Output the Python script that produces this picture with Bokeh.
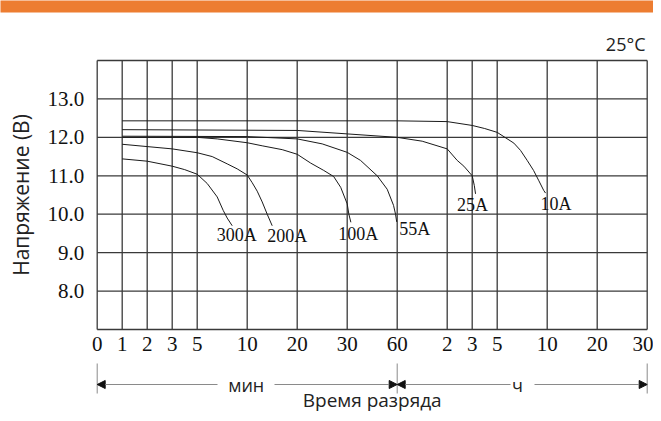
from bokeh.plotting import figure
from bokeh.models import (FixedTicker, Range1d, Arrow, NormalHead, PrintfTickFormatter)
from bokeh.core.properties import value
from bokeh.embed import file_html
from bokeh.resources import INLINE
import numpy as np

# ---------------- data ----------------
tick_minutes = [0, 1, 2, 3, 5, 10, 20, 30, 60, 120, 180, 300, 600, 1200, 1800]
tick_labels = ["0", "1", "2", "3", "5", "10", "20", "30", "60", "2", "3", "5", "10", "20", "30"]
tick_slots = [0, 1, 2, 3, 4, 6, 8, 10, 12, 14, 15, 16, 18, 20, 22]
y_ticks = [8, 9, 10, 11, 12, 13]

series_names = ["300A", "200A", "100A", "55A", "25A", "10A"]

t_300 = [1, 2, 3, 4, 5, 6, 7, 7.6, 8, 8.5]
v_300 = [11.44, 11.38, 11.25, 11.16, 11.04, 10.8, 10.45, 10.1, 9.9, 9.7]

t_200 = [1, 2, 3, 5, 6.5, 8, 9, 10, 11, 12, 13, 14, 15]
v_200 = [11.82, 11.76, 11.7, 11.6, 11.5, 11.31, 11.18, 11.02, 10.82, 10.6, 10.32, 10.0, 9.7]

t_100 = [1, 5, 7, 10, 13, 17, 20, 22.7, 25.3, 27.3, 28.7, 30, 31, 32.2]
v_100 = [12.0, 12.0, 11.96, 11.86, 11.78, 11.68, 11.56, 11.33, 11.14, 10.98, 10.7, 10.27, 10.0, 9.79]

t_55 = [1, 10, 20, 25, 30, 38, 48, 54, 57.8, 59, 59.7]
v_55 = [12.03, 12.02, 11.96, 11.83, 11.61, 11.4, 11.0, 10.65, 10.23, 10.0, 9.8]

t_25 = [1, 20, 30, 60, 90, 120, 144, 160, 180, 190, 196]
v_25 = [12.2, 12.18, 12.09, 12.0, 11.9, 11.7, 11.4, 11.25, 11.0, 10.75, 10.53]

t_10 = [1, 60, 120, 180, 240, 300, 400, 440, 480, 518, 550, 579, 590]
v_10 = [12.43, 12.43, 12.41, 12.31, 12.23, 12.13, 11.85, 11.66, 11.4, 11.14, 10.87, 10.62, 10.55]

unit_text = ["мин", "ч"]

# ---------------- layout (pixels inside the canvas) ----------------
W, H = 653, 413
GX0, GX1 = 96.7, 646.7      # grid box left / right
GY0, GY1 = 60.0, 329.0      # grid box top / bottom
S0, S1 = 0, 22              # slot range of the grid
V0, V1 = 7, 14              # voltage range of the grid
px_x = (GX1 - GX0) / (S1 - S0)
px_y = (GY1 - GY0) / (V1 - V0)

x_start = S0 - GX0 / px_x
x_end = S1 + (W - GX1) / px_x
y_start = V0 - (H - GY1) / px_y
y_end = V1 + GY0 / px_y


def xs_(px):
    return S0 + (px - GX0) / px_x


def ys_(py):
    return V1 - (py - GY0) / px_y


def to_slot(t):
    return np.interp(t, tick_minutes, tick_slots)


p = figure(width=W, height=H, output_backend="svg", toolbar_location=None,
           x_range=Range1d(x_start, x_end), y_range=Range1d(y_start, y_end),
           min_border_left=0, min_border_right=0, min_border_top=0,
           min_border_bottom=0, title=None)
p.background_fill_color = "white"
p.border_fill_color = "white"
p.outline_line_color = None
p.grid.visible = False

serif = "Liberation Serif"
sans = "Open Sans"
grid_col = "#3a3a3a"

# axes (drawn at fixed data locations inside the canvas)
p.xaxis.fixed_location = V0
p.xaxis.bounds = (S0, S1)
p.xaxis.ticker = FixedTicker(ticks=tick_slots)
p.xaxis.major_label_overrides = {s: l for s, l in zip(tick_slots, tick_labels)}
p.xaxis.major_label_text_font = serif
p.xaxis.major_label_text_font_size = "21px"
p.xaxis.major_label_text_color = "#111111"
p.xaxis.major_label_standoff = 1
p.xaxis.major_tick_line_color = None
p.xaxis.minor_tick_line_color = None
p.xaxis.axis_line_color = None

p.yaxis.fixed_location = S0
p.yaxis.bounds = (V0, V1)
p.yaxis.ticker = FixedTicker(ticks=y_ticks)
p.yaxis.formatter = PrintfTickFormatter(format="%.1f")
p.yaxis.major_label_text_font = serif
p.yaxis.major_label_text_font_size = "21px"
p.yaxis.major_label_text_color = "#111111"
p.yaxis.major_label_standoff = 7
p.yaxis.major_tick_line_color = None
p.yaxis.minor_tick_line_color = None
p.yaxis.axis_line_color = None
p.yaxis.axis_label = "Напряжение (В)"
p.yaxis.axis_label_text_font = sans
p.yaxis.axis_label_text_font_style = "normal"
p.yaxis.axis_label_text_font_size = "21px"
p.yaxis.axis_label_text_color = "#222222"
p.yaxis.axis_label_standoff = 10

# grid box
grid_v = list(range(V0, V1 + 1))
p.segment(x0=tick_slots, y0=[V0] * len(tick_slots), x1=tick_slots, y1=[V1] * len(tick_slots),
          line_color=grid_col, line_width=1.3)
p.segment(x0=[S0] * len(grid_v), y0=grid_v, x1=[S1] * len(grid_v), y1=grid_v,
          line_color=grid_col, line_width=1.3)

# orange banner along the top edge
p.quad(left=[x_start - 1], right=[x_end + 1], bottom=[ys_(12)], top=[y_end + 1],
       fill_color="#ED7D31", line_color=None)

# curves
all_t = [t_300, t_200, t_100, t_55, t_25, t_10]
all_v = [v_300, v_200, v_100, v_55, v_25, v_10]
# pixel offsets of each series label from the end of its curve (right, down)
label_dx = [4.5, 15, 7.5, 18, -3, 10.5]
label_dy = [9, 10, 12, 7, 11, 11]
lx, ly = [], []
for t, v, dx, dy in zip(all_t, all_v, label_dx, label_dy):
    sx = to_slot(t)
    p.line(sx, v, line_color="#1a1a1a", line_width=1.0)
    lx.append(sx[-1] + dx / px_x)
    ly.append(v[-1] - dy / px_y)

p.text(x=lx, y=ly, text=series_names, text_font=value(serif),
       text_font_size="18px", text_align="center", text_baseline="middle",
       text_color="#111111")

# temperature note
p.text(x=[xs_(645)], y=[ys_(43.5)], text=["25°C"], text_font=value(sans),
       text_font_size="18px", text_align="right", text_baseline="middle",
       text_color="#222222")

# time-unit arrows row
row_y = ys_(384)
m_idx = tick_slots[tick_minutes.index(60)]
seg_pairs = [(xs_(217), S0), (xs_(274), m_idx), (xs_(510), m_idx), (xs_(534), S1)]
for s, e in seg_pairs:
    p.add_layout(Arrow(x_start=s, y_start=row_y, x_end=e, y_end=row_y,
                       line_color="#8a8a8a", line_width=1.2,
                       end=NormalHead(size=8, fill_color="#111111", line_color="#111111")))
p.segment(x0=[S0, m_idx, S1], y0=[ys_(363)] * 3, x1=[S0, m_idx, S1], y1=[ys_(393)] * 3,
          line_color="#8a8a8a", line_width=1.0)
p.text(x=[xs_(245.7), xs_(517)], y=[row_y, row_y], text=unit_text, text_font=value(sans),
       text_font_size="18px", text_align="center", text_baseline="middle",
       text_color="#222222")

# x-axis title
p.text(x=[(S0 + S1) / 2], y=[ys_(399)], text=["Время разряда"], text_font=value(sans),
       text_font_size="19px", text_align="center", text_baseline="middle",
       text_color="#222222")

open("out.html", "w").write(file_html(p, INLINE))
